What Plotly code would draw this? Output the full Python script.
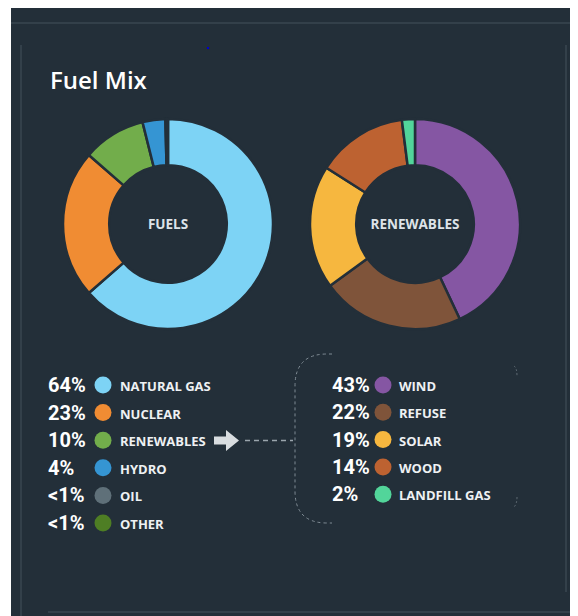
import plotly.graph_objects as go

# data
fuel_names = ['NATURAL GAS', 'NUCLEAR', 'RENEWABLES', 'HYDRO', 'OIL', 'OTHER']
fuel_values = [63.6, 22.8, 9.7, 3.5, 0.2, 0.2]
fuel_colors = ['#7dd3f5', '#f08c33', '#72ad4b', '#3595d3', '#5f7079', '#4e7e24']

renew_names = ['WIND', 'REFUSE', 'SOLAR', 'WOOD', 'LANDFILL GAS']
renew_values = [43, 22, 19, 14, 2]
renew_colors = ['#8556a3', '#7f543a', '#f6b73f', '#bd6231', '#52d59a']

# the page puts the figure 8px in from the top-left corner
OFF = 8
PW, PH = 578, 616
W, H = PW - OFF, PH - OFF
BG = '#232f39'
LINE = '#3a4751'
TEXT = '#eef1f3'


def pct_label(v):
    return '<1%' if v < 1 else f'{round(v)}%'


def donut(names, values, colors, cx, cy, r, title):
    return go.Pie(
        labels=names, values=values, sort=False, direction='clockwise',
        hole=0.56, textinfo='none', hoverinfo='label+percent',
        marker=dict(colors=colors, line=dict(color=BG, width=2.5)),
        domain=dict(x=[(cx - r - OFF) / W, (cx + r - OFF) / W],
                    y=[(PH - cy - r) / H, (PH - cy + r) / H]),
        title=dict(text=f'<b>{title}</b>', position='middle center',
                   font=dict(family='Open Sans', size=13.5, color='#dde3e8')),
        showlegend=False,
    )


fig = go.Figure()
fig.add_trace(donut(fuel_names, fuel_values, fuel_colors, 168, 224, 105, 'FUELS'))
fig.add_trace(donut(renew_names, renew_values, renew_colors, 415, 224, 105, 'RENEWABLES'))

annotations = [dict(x=48, y=79, text='Fuel Mix', showarrow=False, xanchor='left', yanchor='middle',
                    font=dict(family='Open Sans', size=24, color='white', weight=600))]


def legend(names, values, colors, x_pct, x_dot, x_name, y0, step):
    ys = [y0 + i * step for i in range(len(names))]
    fig.add_trace(go.Scatter(
        x=[x_dot] * len(names), y=ys, mode='markers', hoverinfo='skip', showlegend=False,
        marker=dict(size=17, color=colors, line=dict(width=0)),
    ))
    for y, n, v in zip(ys, names, values):
        annotations.append(dict(x=x_pct, y=y, text=pct_label(v), showarrow=False,
                                xanchor='left', yanchor='middle',
                                font=dict(family='Roboto', size=20, color='white', weight='bold')))
        annotations.append(dict(x=x_name, y=y + 1, text=n, showarrow=False,
                                xanchor='left', yanchor='middle',
                                font=dict(family='Open Sans', size=13, color=TEXT, weight=700)))


legend(fuel_names, fuel_values, fuel_colors, 46, 103, 118, 385, 27.6)
legend(renew_names, renew_values, renew_colors, 330, 383, 397, 385, 27.3)

shapes = [
    # page edges
    dict(type='rect', x0=0, x1=11, y0=0, y1=PH, fillcolor='white', line_width=0),
    dict(type='line', x0=11, x1=PW, y0=23, y1=23, line=dict(color=LINE, width=1.5)),
    dict(type='line', x0=21, x1=21, y0=45, y1=PH, line=dict(color=LINE, width=1.5)),
    dict(type='line', x0=566, x1=566, y0=45, y1=592, line=dict(color=LINE, width=1.5)),
    dict(type='line', x0=48, x1=PW, y0=612, y1=612, line=dict(color=LINE, width=1.5)),
    dict(type='rect', x0=207, x1=209, y0=47, y1=49, fillcolor='#0000cc', line_width=0),
    # arrow + connector
    dict(type='path', path='M214,436.5 L226,436.5 L226,430 L239,440.5 L226,451 L226,444.5 L214,444.5 Z',
         fillcolor='#d9dde0', line_width=0),
    dict(type='line', x0=245, x1=293, y0=440.5, y1=440.5, line=dict(color='#9aa5ad', width=1.5, dash='5px,4px')),
    dict(type='path', path='M332,354 L327,354 Q295,354 295,386 L295,491 Q295,523 327,523 L332,523',
         line=dict(color='#7f8b94', width=1, dash='3px,3px')),
    dict(type='path', path='M514,366 Q517,368 517,376', line=dict(color='#5f6b74', width=1, dash='2px,2px')),
    dict(type='path', path='M517,497 Q517,504 514,507', line=dict(color='#5f6b74', width=1, dash='2px,2px')),
]

fig.update_layout(
    width=W, height=H, margin=dict(l=0, r=0, t=0, b=0),
    paper_bgcolor=BG, plot_bgcolor='rgba(0,0,0,0)',
    xaxis=dict(range=[OFF, PW], visible=False, fixedrange=True),
    yaxis=dict(range=[PH, OFF], visible=False, fixedrange=True),
    shapes=shapes, annotations=annotations, showlegend=False,
)

fig.write_html('out.html', config={'displayModeBar': False})
